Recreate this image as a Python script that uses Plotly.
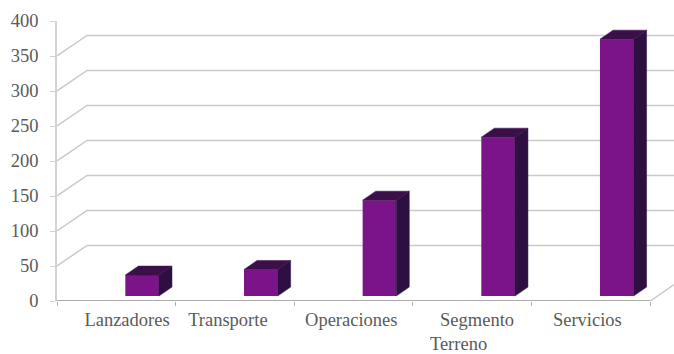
import plotly.graph_objects as go

categories = ["Lanzadores", "Transporte", "Operaciones", "Segmento<br>Terreno\u00a0\u00a0\u00a0\u00a0\u00a0\u00a0\u00a0\u00a0", "Servicios"]
values = [30, 38, 137, 227, 367]
y_ticks = [0, 50, 100, 150, 200, 250, 300, 350, 400]
label_positions = [0.59, 1.44, 2.48, 3.54, 4.47]
band_edges = [0, 1, 2, 3, 4, 5]
grid_levels = [50, 100, 150, 200, 250, 300, 350]

FRONT = "#7a1488"
SIDE = "#2e0f42"
TOP = "#3b104a"
GRID = "#c9c9c9"
FONT = dict(family="Liberation Serif", size=18.5, color="#5a5a5a")

# 3D look, in axis units
wall_dx, wall_dy = 0.253, 29.4
bar_dx, bar_dy = 0.11, 12.9
bar_base = 7
bar_left = 0.576
bar_width = 0.283
x_max = 5.2

fig = go.Figure()

# Back wall with diagonal floor/wall gridlines
gx, gy = [], []
for v in grid_levels:
    gx += [0, wall_dx, x_max, None]
    gy += [v, v + wall_dy, v + wall_dy, None]
fig.add_trace(go.Scatter(x=gx, y=gy, mode="lines", line=dict(color=GRID, width=1.5), hoverinfo="skip"))

# Floor front edge and right diagonal
fig.add_trace(go.Scatter(x=[0, 5], y=[0, 0], mode="lines", line=dict(color="#8f8f8f", width=1.5),
                         hoverinfo="skip", cliponaxis=False))
fig.add_trace(go.Scatter(x=[5, x_max], y=[0, wall_dy * 0.8], mode="lines", line=dict(color=GRID, width=1.5),
                         hoverinfo="skip", cliponaxis=False))

# Front faces of the bars (overlay axes keep them above the gridlines)
centres = [i + bar_left + bar_width / 2 for i in range(len(values))]
fig.add_trace(go.Bar(x=centres, y=values, base=bar_base, width=bar_width, xaxis="x2", yaxis="y2",
                     marker=dict(color=FRONT, line=dict(width=0)), hoverinfo="y"))

# Side and top faces, computed from the same values
for c, v in zip(centres, values):
    l, r, t = c - bar_width / 2, c + bar_width / 2, bar_base + v
    fig.add_trace(go.Scatter(x=[r, r + bar_dx, r + bar_dx, r, r],
                             y=[bar_base, bar_base + bar_dy, t + bar_dy, t, bar_base],
                             mode="lines", fill="toself", fillcolor=SIDE, line=dict(color=SIDE, width=0.5),
                             hoverinfo="skip", xaxis="x2", yaxis="y2"))
    fig.add_trace(go.Scatter(x=[l, l + bar_dx, r + bar_dx, r, l],
                             y=[t, t + bar_dy, t + bar_dy, t, t],
                             mode="lines", fill="toself", fillcolor=TOP, line=dict(color=TOP, width=0.5),
                             hoverinfo="skip", xaxis="x2", yaxis="y2"))

fig.update_layout(
    width=674, height=354,
    margin=dict(l=57, r=0, t=21, b=52.5, autoexpand=False),
    paper_bgcolor="white", plot_bgcolor="white",
    showlegend=False,
    xaxis=dict(range=[0, x_max], showgrid=False, zeroline=False, showline=False, automargin=False,
               tickmode="array", tickvals=label_positions, ticktext=categories,
               ticks="outside", ticklen=2, tickcolor="rgba(0,0,0,0)", tickfont=FONT,
               minor=dict(tickmode="array", tickvals=band_edges, ticks="outside", ticklen=4,
                          tickcolor="#b0b0b0", showgrid=False)),
    yaxis=dict(range=[0, 400], showgrid=False, zeroline=False, showline=True, linecolor="#d2d2d2", linewidth=1.5,
               automargin=False,
               tickmode="array", tickvals=y_ticks, ticks="outside", ticklen=5, tickcolor="#d2d2d2",
               tickfont=FONT, ticklabelstandoff=8),
    xaxis2=dict(range=[0, x_max], overlaying="x", visible=False),
    yaxis2=dict(range=[0, 400], overlaying="y", visible=False),
)
fig.write_html("out.html", post_script="document.body.style.margin='0';",
               config=dict(displayModeBar=False))
